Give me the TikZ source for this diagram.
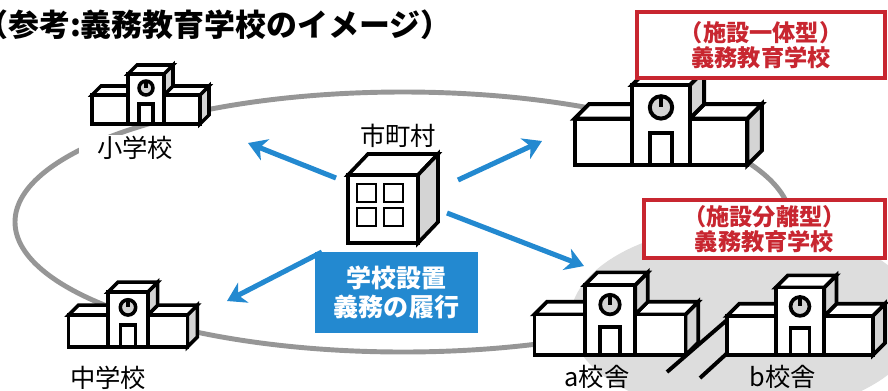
\documentclass[tikz,border=0pt]{standalone}
\usepackage{fontspec}
\usepackage{xcolor}
\usepackage{tikz}
\usetikzlibrary{arrows.meta}
\newfontfamily\jp{Noto Sans CJK JP}
\definecolor{dutyblue}{RGB}{35,137,208}
\definecolor{typered}{RGB}{200,38,48}
\definecolor{ringgray}{RGB}{150,150,150}
\definecolor{sitegray}{RGB}{221,221,221}
\definecolor{wallgray}{RGB}{212,212,212}

\tikzset{
  wall/.style={draw=black, fill=white},
  shade/.style={draw=black, fill=wallgray},
  school/.pic={
    \filldraw[shade] (54,0) -- (63,-9) -- (63,-38) -- (54,-29) -- cycle;
    \filldraw[wall] (18,-29) -- (54,-29) -- (63,-38) -- (27,-38) -- cycle;
    \filldraw[wall] (-54,-29) -- (-18,-29) -- (-9,-38) -- (-45,-38) -- cycle;
    \filldraw[shade] (18,-29) -- (18,-50) -- (27,-59) -- (27,-38) -- cycle;
    \filldraw[wall] (-18,-50) -- (18,-50) -- (27,-59) -- (-9,-59) -- cycle;
    \filldraw[wall] (-54,0) rectangle (-18,-29);
    \filldraw[wall] (18,0) rectangle (54,-29);
    \filldraw[wall] (-18,0) rectangle (18,-50);
    \filldraw[shade] (0,-36) circle (7);
    \draw (0,-43) -- (0,-36);
    \draw (-7,0) -- (-7,-20) -- (7,-20) -- (7,0);
  },
  lbl/.style={font=\jp\fontsize{18}{20}\selectfont, inner sep=1pt},
  typebox/.style={draw=typered, line width=2.8pt, fill=white, text=typered,
    font=\jp\bfseries\fontsize{16.5}{18}\selectfont, align=center, inner sep=0pt},
  duty/.style={fill=dutyblue, text=white, align=center, inner sep=0pt,
    minimum width=4.075cm, minimum height=2.025cm,
    font=\jp\bfseries\fontsize{17.8}{20.6}\selectfont},
  reach/.style={draw=dutyblue, line width=3.6pt,
    -{Stealth[length=13pt, width=16pt, inset=4pt]}}
}

\begin{document}
\begin{tikzpicture}[x=0.025cm, y=-0.025cm]
  \useasboundingbox (0,0) rectangle (888,390);

  \draw[ringgray, line width=3.5pt] (403,222) ellipse (388 and 130);
  \fill[sitegray] (745,320) ellipse (175 and 95);

  \draw[line width=2.8pt] (667,372) -- (727,320);
  \draw[line width=2.8pt] (700,378) -- (735,346);

  \coordinate (from-ul) at (336,178);
  \coordinate (to-ul) at (248,143);
  \coordinate (from-ur) at (458,180);
  \coordinate (to-ur) at (542,141);
  \coordinate (from-ll) at (322,252);
  \coordinate (to-ll) at (227,301);
  \coordinate (from-lr) at (447,213);
  \coordinate (to-lr) at (584,266);
  \draw[reach] (from-ul) -- (to-ul);
  \draw[reach] (from-ur) -- (to-ur);
  \draw[reach] (from-ll) -- (to-ll);
  \draw[reach] (from-lr) -- (to-lr);

  % town office
  \begin{scope}[line width=2.6pt]
    \filldraw[wall] (348,175) -- (368,154) -- (438,154) -- (418,175) -- cycle;
    \filldraw[shade] (418,175) -- (438,154) -- (438,222) -- (418,243) -- cycle;
    \filldraw[wall] (348,175) rectangle (418,243);
  \end{scope}
  \begin{scope}[line width=2pt]
    \draw (357,184) rectangle (376,202);
    \draw (384,184) rectangle (403,202);
    \draw (357,208) rectangle (376,226);
    \draw (384,208) rectangle (403,226);
  \end{scope}

  \pic[line width=2.5pt] at (146,124) {school};
  \pic[line width=2.5pt, scale=1.1] at (128,347) {school};
  \pic[line width=2.8pt, scale=1.6] at (661,165) {school};
  \pic[line width=2.6pt, scale=1.4] at (610,355) {school};
  \pic[line width=2.6pt, scale=1.35] at (800,355) {school};

  \node[anchor=west, inner sep=0pt, font=\jp\bfseries\fontsize{22}{24}\selectfont] (title) at (-23,25) {（参考:義務教育学校のイメージ）};

  \node[lbl, fill=white, inner xsep=13pt] (elem) at (135,148) {小学校};
  \node[lbl] (junior) at (108,378) {中学校};
  \node[lbl] (town) at (398,136) {市町村};
  \node[lbl] (site-a) at (597,377) {a校舎};
  \node[lbl] (site-b) at (783,377) {b校舎};

  \node[duty] (duty) at (396.5,292.5) {学校設置\\義務の履行};

  \node[typebox, minimum width=6.2cm, minimum height=1.65cm] (unified) at (761,45) {（施設一体型）\\義務教育学校};
  \node[typebox, minimum width=6.025cm, minimum height=1.45cm] (split) at (764.5,229) {（施設分離型）\\義務教育学校};
\end{tikzpicture}
\end{document}
